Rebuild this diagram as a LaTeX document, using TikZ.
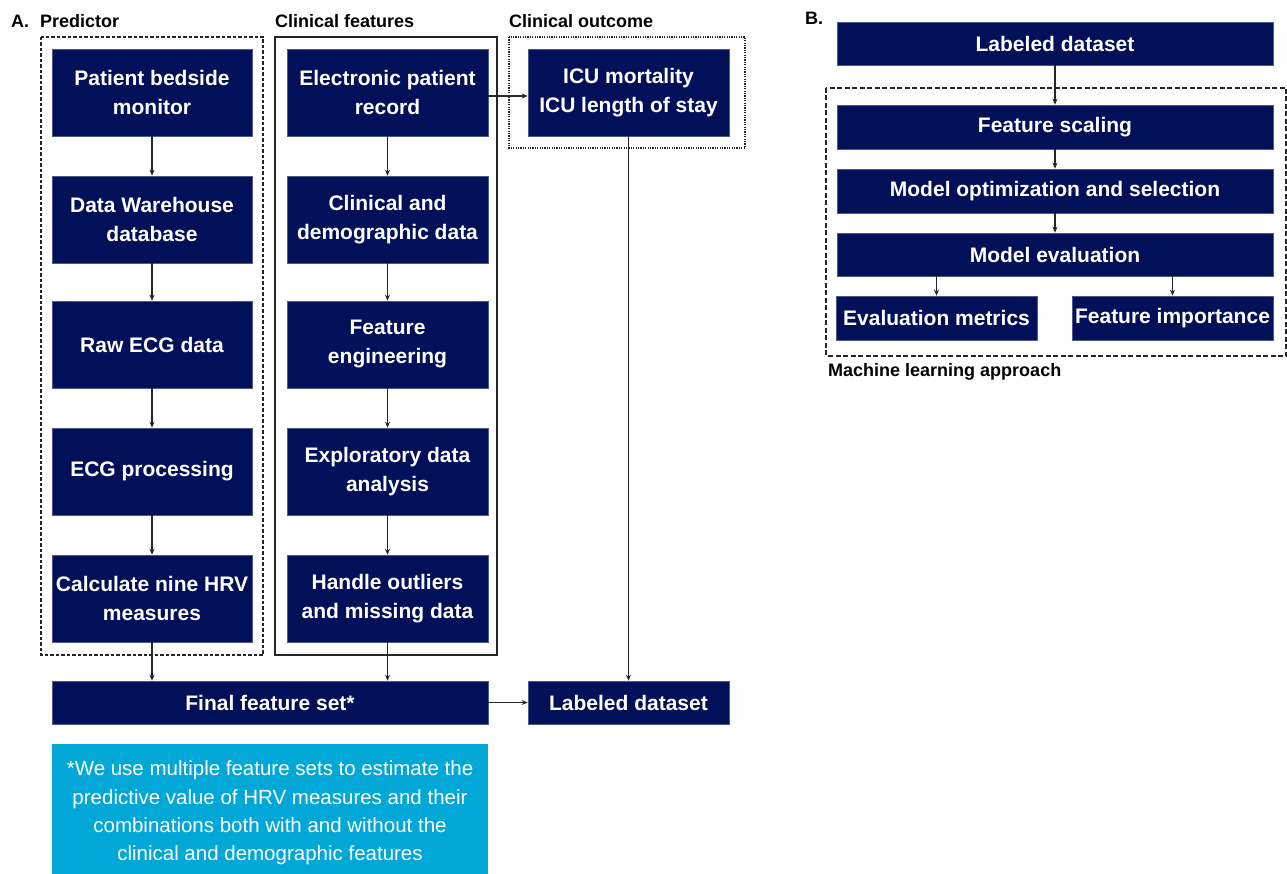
\documentclass[tikz,border=0pt]{standalone}
\usepackage{fontspec}
\setmainfont{Liberation Sans}
\usetikzlibrary{arrows.meta,calc}
\definecolor{navy}{HTML}{02105A}
\definecolor{cyanbox}{HTML}{00A7D7}
\tikzset{
  box/.style={fill=navy, draw=navy!70!white, line width=0.6pt, text=white, align=center, inner sep=0pt,
    font=\fontsize{21}{29}\selectfont\bfseries},
  arr/.style={draw=black!85, line width=1.3pt, -{Stealth[length=6pt,width=5pt]}},
  hdr/.style={anchor=base west, inner sep=0pt, font=\fontsize{18}{20}\selectfont\bfseries},
  grp/.style={draw=black!85, line width=1.1pt},
}
\begin{document}
\begin{tikzpicture}[x=1pt,y=-1pt]
\useasboundingbox (0,0) rectangle (1287,874);
% group frames
\draw[grp, dash pattern=on 3.5pt off 2pt] (41,37) rectangle (263,655);
\draw[grp] (275,37) rectangle (497,655);
\draw[grp, dash pattern=on 1.2pt off 1.2pt] (509,37) rectangle (745,148);
\draw[grp, dash pattern=on 5pt off 2.5pt] (826,88) rectangle (1286,356);
% headers
\node[hdr] (lA) at (11,28) {A.};
\node[hdr] (lP) at (40,28) {Predictor};
\node[hdr] (lC) at (275,28) {Clinical features};
\node[hdr] (lO) at (509,28) {Clinical outcome};
\node[hdr] (lB) at (805,25) {B.};
\node[hdr] (lM) at (828,376) {Machine learning approach};
% predictor column
\node[box, minimum width=200pt, minimum height=87pt] (p1) at (152,92.5) {Patient bedside\\monitor};
\node[box, minimum width=200pt, minimum height=87pt] (p2) at (152,219.5) {Data Warehouse\\database};
\node[box, minimum width=200pt, minimum height=87pt] (p3) at (152,344.5) {Raw ECG data};
\node[box, minimum width=200pt, minimum height=87pt] (p4) at (152,471.5) {ECG processing};
\node[box, minimum width=200pt, minimum height=87pt] (p5) at (152,598.5) {Calculate nine HRV\\measures};
% clinical column
\node[box, minimum width=201pt, minimum height=87pt] (c1) at (387.5,92.5) {Electronic patient\\record};
\node[box, minimum width=201pt, minimum height=87pt] (c2) at (387.5,219.5) {Clinical and\\demographic data};
\node[box, minimum width=201pt, minimum height=87pt] (c3) at (387.5,344.5) {Feature\\engineering};
\node[box, minimum width=201pt, minimum height=87pt] (c4) at (387.5,471.5) {Exploratory data\\analysis};
\node[box, minimum width=201pt, minimum height=87pt] (c5) at (387.5,598.5) {Handle outliers\\and missing data};
% outcome
\node[box, minimum width=201pt, minimum height=87pt] (o1) at (628.5,92.5) {ICU mortality\\ICU length of stay};
% bottom row
\node[box, minimum width=436pt, minimum height=43pt] (ff) at (270,702.5) {Final feature set*};
\node[box, minimum width=201pt, minimum height=43pt] (ld) at (628.5,702.5) {Labeled dataset};
\fill[cyanbox] (52,744) rectangle (488,874);
\node[text=white, align=center, inner sep=0pt, font=\fontsize{20.5}{28.4}\selectfont] (note) at (270,813)
  {*We use multiple feature sets to estimate the\\predictive value of HRV measures and their\\combinations both with and without the\\clinical and demographic features};
% panel B
\node[box, minimum width=436pt, minimum height=43pt] (b1) at (1055,43.5) {Labeled dataset};
\node[box, minimum width=436pt, minimum height=44pt] (b2) at (1055,127) {Feature scaling};
\node[box, minimum width=436pt, minimum height=44pt] (b3) at (1055,191) {Model optimization and selection};
\node[box, minimum width=436pt, minimum height=43pt] (b4) at (1055,254.5) {Model evaluation};
\node[box, minimum width=201pt, minimum height=44pt] (b5) at (936.5,318) {Evaluation metrics};
\node[box, minimum width=201pt, minimum height=44pt] (b6) at (1172.5,318) {Feature importance};
% connectors A
\draw[arr] (p1) -- (p2);
\draw[arr] (p2) -- (p3);
\draw[arr] (p3) -- (p4);
\draw[arr] (p4) -- (p5);
\draw[arr] (c1) -- (c2);
\draw[arr] (c2) -- (c3);
\draw[arr] (c3) -- (c4);
\draw[arr] (c4) -- (c5);
\draw[arr] (c1.east |- 0,96) -- (o1.west |- 0,96);
\draw[arr] (o1.south) -- (ld.north);
\draw[arr] (p5.south) -- (p5.south |- ff.north);
\draw[arr] (c5.south) -- (c5.south |- ff.north);
\draw[arr] (ff) -- (ld);
% connectors B
\draw[arr] (b1) -- (b2);
\draw[arr] (b2) -- (b3);
\draw[arr] (b3) -- (b4);
\draw[arr] (b5.north |- b4.south) -- (b5.north);
\draw[arr] (b6.north |- b4.south) -- (b6.north);
\end{tikzpicture}
\end{document}
